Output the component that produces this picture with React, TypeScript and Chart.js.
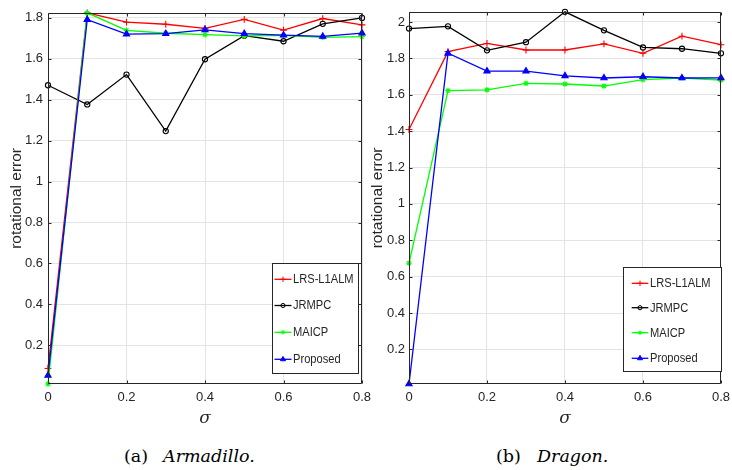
import React, { useEffect, useRef } from 'react';
import { Chart, registerables } from 'chart.js';
import { drawPoint } from 'chart.js/helpers';

Chart.register(...registerables);

// ---------------- data ----------------
const sigma = [0, 0.1, 0.2, 0.3, 0.4, 0.5, 0.6, 0.7, 0.8];

// (a) Armadillo
const lrsArmadillo = [0.087, 1.825, 1.779, 1.769, 1.749, 1.793, 1.740, 1.797, 1.766];
const jrmpcArmadillo = [1.471, 1.377, 1.523, 1.247, 1.598, 1.713, 1.686, 1.771, 1.800];
const maicpArmadillo = [0.011, 1.825, 1.739, 1.725, 1.718, 1.712, 1.715, 1.705, 1.709];
const proposedArmadillo = [0.053, 1.792, 1.721, 1.723, 1.742, 1.723, 1.716, 1.710, 1.726];

// (b) Dragon
const lrsDragon = [1.409, 1.837, 1.882, 1.846, 1.846, 1.880, 1.828, 1.922, 1.875];
const jrmpcDragon = [1.964, 1.976, 1.844, 1.889, 2.056, 1.954, 1.860, 1.853, 1.828];
const maicpDragon = [0.674, 1.623, 1.627, 1.663, 1.659, 1.648, 1.683, 1.692, 1.681];
const proposedDragon = [0.010, 1.828, 1.730, 1.730, 1.704, 1.692, 1.699, 1.692, 1.693];

const seriesNames = ['LRS-L1ALM', 'JRMPC', 'MAICP', 'Proposed'];
const xTicks = [0, 0.2, 0.4, 0.6, 0.8];
const yTicksArmadillo = [0.2, 0.4, 0.6, 0.8, 1, 1.2, 1.4, 1.6, 1.8];
const yTicksDragon = [0.2, 0.4, 0.6, 0.8, 1, 1.2, 1.4, 1.6, 1.8, 2];
const xTitle = 'σ';
const yTitle = 'rotational error';

// ---------------- styles ----------------
const TEXT = '#262626';
const GRID = '#e3e3e3';
const SANS = '"Liberation Sans", Arial, Helvetica, sans-serif';
const SERIF = '"DejaVu Serif", "Liberation Serif", serif';

const seriesStyles = [
  { color: '#ff0000', fill: '#ff0000', pointStyle: 'cross', radius: 3.4 },
  { color: '#000000', fill: 'rgba(0,0,0,0)', pointStyle: 'circle', radius: 2.6 },
  { color: '#00ff00', fill: '#00ff00', pointStyle: 'star', radius: 2.8 },
  { color: '#0000ff', fill: '#0000ff', pointStyle: 'triangle', radius: 3.6 },
];

const fmt = (v: number) => String(Number(v.toFixed(2)));

const framePlugin = {
  id: 'frameAndLegend',
  afterDatasetsDraw(chart: any, _args: any, opts: any) {
    const { ctx, chartArea: a, scales } = chart;
    const L = Math.round(a.left) + 0.5;
    const R = Math.round(a.right) - 0.5;
    const T = Math.round(a.top) + 0.5;
    const B = Math.round(a.bottom) - 0.5;
    ctx.save();
    ctx.strokeStyle = TEXT;
    ctx.lineWidth = 1;
    ctx.beginPath();
    ctx.rect(L, T, R - L, B - T);
    const tl = 3;
    for (const v of opts.xTicks) {
      const x = Math.round(scales.x.getPixelForValue(v)) + 0.5;
      ctx.moveTo(x, B); ctx.lineTo(x, B - tl);
      ctx.moveTo(x, T); ctx.lineTo(x, T + tl);
    }
    for (const v of opts.yTicks) {
      const y = Math.round(scales.y.getPixelForValue(v)) + 0.5;
      ctx.moveTo(L, y); ctx.lineTo(L + tl, y);
      ctx.moveTo(R, y); ctx.lineTo(R - tl, y);
    }
    ctx.stroke();

    // legend
    const lg = opts.legend;
    ctx.fillStyle = '#ffffff';
    ctx.fillRect(lg.x, lg.y, lg.w, lg.h);
    ctx.strokeStyle = TEXT;
    ctx.strokeRect(lg.x, lg.y, lg.w, lg.h);
    chart.data.datasets.forEach((ds: any, i: number) => {
      const y = lg.rows[i];
      ctx.strokeStyle = ds.borderColor;
      ctx.lineWidth = 1.3;
      ctx.beginPath();
      ctx.moveTo(lg.line0, y);
      ctx.lineTo(lg.line1, y);
      ctx.stroke();
      ctx.fillStyle = ds.pointBackgroundColor;
      ctx.strokeStyle = ds.pointBorderColor;
      ctx.lineWidth = 1;
      drawPoint(ctx, { pointStyle: ds.pointStyle, radius: ds.pointRadius * 0.8, rotation: 0, borderWidth: 1 }, (lg.line0 + lg.line1) / 2, y);
      ctx.save();
      ctx.fillStyle = TEXT;
      ctx.font = `12.5px ${SANS}`;
      ctx.textBaseline = 'middle';
      ctx.textAlign = 'left';
      ctx.translate(lg.text, y + 0.5);
      ctx.scale(0.89, 1);
      ctx.fillText(ds.label, 0, 0);
      ctx.restore();
    });
    ctx.restore();
  },
};

type PanelProps = {
  series: number[][];
  yTicks: number[];
  left: number;
  width: number;
  padRight: number;
  yWidth: number;
  yTitlePad: number;
  yTickPad: number;
  legend: any;
};

function Panel(p: PanelProps) {
  const ref = useRef<HTMLCanvasElement>(null);
  useEffect(() => {
    const all = p.series.flat();
    const yMin = Math.min(...all);
    const yMax = Math.max(...all);
    const chart = new Chart(ref.current!, {
      type: 'line',
      data: {
        datasets: p.series.map((vals, i) => ({
          label: seriesNames[i],
          data: sigma.map((s, j) => ({ x: s, y: vals[j] })),
          borderColor: seriesStyles[i].color,
          backgroundColor: seriesStyles[i].fill,
          pointBorderColor: seriesStyles[i].color,
          pointBackgroundColor: seriesStyles[i].fill,
          pointStyle: seriesStyles[i].pointStyle as any,
          pointRadius: seriesStyles[i].radius,
          pointBorderWidth: 1.1,
          borderWidth: 1.3,
          tension: 0,
          fill: false,
          clip: false as any,
          order: 3 - i,
        })),
      },
      options: {
        responsive: false,
        animation: false,
        devicePixelRatio: 1,
        events: [],
        layout: { padding: { left: 0, right: p.padRight, top: 8, bottom: 0 } },
        plugins: {
          legend: { display: false },
          tooltip: { enabled: false },
          frameAndLegend: { xTicks, yTicks: p.yTicks, legend: p.legend },
        } as any,
        scales: {
          x: {
            type: 'linear',
            min: 0,
            max: 0.8,
            afterBuildTicks: (s: any) => { s.ticks = xTicks.map((v) => ({ value: v })); },
            afterFit: (s: any) => { s.height = 56; },
            grid: { color: GRID, lineWidth: 1, drawTicks: false },
            border: { display: false },
            ticks: {
              color: TEXT,
              font: { family: SANS, size: 13 },
              padding: 6,
              maxRotation: 0,
              autoSkip: false,
              callback: (v: any) => fmt(Number(v)),
            },
            title: {
              display: true,
              text: xTitle,
              color: TEXT,
              font: { family: SERIF, size: 17, style: 'italic' },
              padding: { top: 0, bottom: 11 },
            },
          },
          y: {
            type: 'linear',
            min: yMin,
            max: yMax,
            afterBuildTicks: (s: any) => { s.ticks = p.yTicks.map((v) => ({ value: v })); },
            afterFit: (s: any) => { s.width = p.yWidth; },
            grid: { color: GRID, lineWidth: 1, drawTicks: false },
            border: { display: false },
            ticks: {
              color: TEXT,
              font: { family: SANS, size: 13 },
              padding: p.yTickPad,
              autoSkip: false,
              callback: (v: any) => fmt(Number(v)),
            },
            title: {
              display: true,
              text: yTitle,
              color: TEXT,
              font: { family: SANS, size: 15.5 },
              padding: { top: p.yTitlePad, bottom: 0 },
            },
          },
        },
      },
      plugins: [framePlugin],
    });
    return () => chart.destroy();
  }, []);
  return (
    <canvas
      ref={ref}
      width={p.width}
      height={440}
      style={{ position: 'absolute', left: p.left, top: 0, width: p.width, height: 440 }}
    />
  );
}

const capStyle: React.CSSProperties = {
  position: 'absolute',
  top: 446,
  fontFamily: SERIF,
  fontSize: 17.5,
  lineHeight: '20px',
  color: '#000',
  whiteSpace: 'nowrap',
};

export default function App() {
  return (
    <div
      style={{
        position: 'fixed',
        left: 0,
        top: 0,
        width: 732,
        height: 470,
        background: '#ffffff',
        overflow: 'hidden',
      }}
    >
      <Panel
        series={[lrsArmadillo, jrmpcArmadillo, maicpArmadillo, proposedArmadillo]}
        yTicks={yTicksArmadillo}
        left={0}
        width={380}
        padRight={18}
        yWidth={48}
        yTitlePad={7.5}
        yTickPad={5}
        legend={{ x: 272.5, y: 263.5, w: 86, h: 110, rows: [279.3, 305.5, 332.3, 359.3], line0: 274.5, line1: 291.5, text: 293 }}
      />
      <Panel
        series={[lrsDragon, jrmpcDragon, maicpDragon, proposedDragon]}
        yTicks={yTicksDragon}
        left={366}
        width={370}
        padRight={13}
        yWidth={43}
        yTitlePad={2.5}
        yTickPad={4}
        legend={{ x: 257.5, y: 267.5, w: 98, h: 104, rows: [283.3, 307.7, 332.7, 358.3], line0: 265.7, line1: 282.3, text: 284 }}
      />
      <div style={{ ...capStyle, left: 124 }}>(a)</div>
      <div style={{ ...capStyle, left: 163, fontStyle: 'italic' }}>Armadillo.</div>
      <div style={{ ...capStyle, left: 496 }}>(b)</div>
      <div style={{ ...capStyle, left: 537, fontStyle: 'italic' }}>Dragon.</div>
    </div>
  );
}
